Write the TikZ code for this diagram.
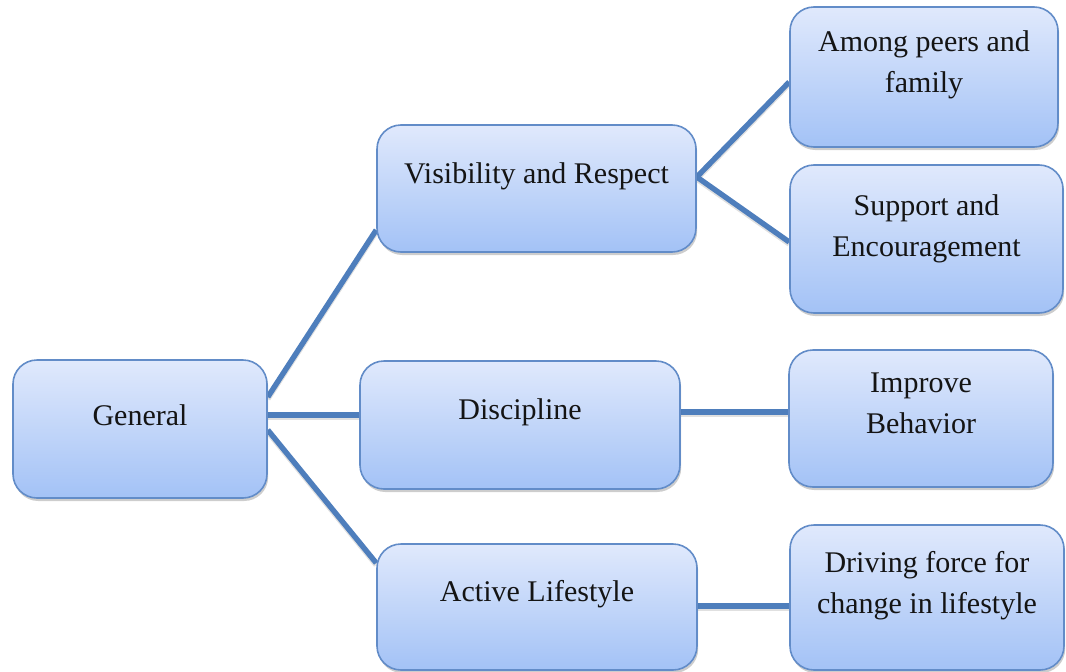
\documentclass[tikz,border=0pt]{standalone}
\usepackage{fontspec}
\setmainfont{Liberation Serif}
\usetikzlibrary{shadows,backgrounds}
\definecolor{boxtop}{RGB}{224,233,252}
\definecolor{boxbot}{RGB}{163,194,246}
\definecolor{boxline}{RGB}{98,140,200}
\definecolor{linkcol}{RGB}{78,126,188}
\definecolor{txt}{RGB}{20,20,20}
\tikzset{
  box/.style={draw=boxline, line width=1.6pt, rounded corners=24pt,
    top color=boxtop, bottom color=boxbot, inner sep=0pt,
    drop shadow={shadow xshift=1.2pt, shadow yshift=-3pt, opacity=0.28, fill=black!70}},
  lbl/.style={align=center, text=txt, inner sep=0pt,
    font=\fontsize{30}{41}\selectfont},
  link/.style={draw=linkcol, line width=5.4pt},
  linkshade/.style={draw=black, opacity=0.12, line width=5.4pt}
}
\begin{document}
\begin{tikzpicture}[x=1pt,y=-1pt]
\useasboundingbox (0,0) rectangle (1066,672);

% boxes
\node[box, minimum width=254pt, minimum height=138pt] (gen) at (140,429) {};
\node[box, minimum width=319pt, minimum height=127pt] (vis) at (536.5,188.5) {};
\node[box, minimum width=320pt, minimum height=128pt] (dis) at (520,425) {};
\node[box, minimum width=320pt, minimum height=126pt] (act) at (537,607) {};
\node[box, minimum width=268pt, minimum height=140pt] (amg) at (924,77) {};
\node[box, minimum width=273pt, minimum height=148pt] (sup) at (926.5,239) {};
\node[box, minimum width=264pt, minimum height=137pt] (imp) at (921,418.5) {};
\node[box, minimum width=274pt, minimum height=145pt] (drv) at (927,597.5) {};

% labels, set in the upper part of each box
\node[lbl] (gent) at ([yshift=14pt]gen.center) {General};
\node[lbl] (vist) at ([yshift=12pt]vis.center) {Visibility and Respect};
\node[lbl] (dist) at ([yshift=13pt]dis.center) {Discipline};
\node[lbl] (actt) at ([yshift=13pt]act.center) {Active Lifestyle};
\node[lbl] (amgt) at ([yshift=12pt]amg.center) {Among peers and\\family};
\node[lbl] (supt) at ([yshift=10.5pt]sup.center) {Support and\\Encouragement};
\node[lbl] (impt) at ([yshift=15pt]imp.center) {Improve\\Behavior};
\node[lbl] (drvt) at ([yshift=12pt]drv.center) {Driving force for\\change in lifestyle};

% attachment points of the connectors
\coordinate (g1) at ([yshift=32pt]gen.east);
\coordinate (g2) at ([yshift=14pt]gen.east);
\coordinate (g3) at ([yshift=-1pt]gen.east);
\coordinate (v0) at ([yshift=-41.5pt]vis.west);
\coordinate (v1) at ([yshift=11.5pt]vis.east);
\coordinate (d0) at ([yshift=10pt]dis.west);
\coordinate (d1) at ([yshift=13pt]dis.east);
\coordinate (a0) at ([yshift=44pt]act.west);
\coordinate (a1) at ([yshift=1pt]act.east);
\coordinate (m0) at ([yshift=-5pt]amg.west);
\coordinate (s0) at ([yshift=-3pt]sup.west);
\coordinate (i0) at ([yshift=6.5pt]imp.west);
\coordinate (r0) at ([yshift=-8.5pt]drv.west);

\begin{pgfonlayer}{background}
  \foreach \p/\q in {g1/v0, g2/d0, g3/a0, v1/m0, v1/s0, d1/i0, a1/r0}{
    \draw[linkshade] ([yshift=-2pt]\p) -- ([yshift=-2pt]\q);
    \draw[link] (\p) -- (\q);
  }
\end{pgfonlayer}
\end{tikzpicture}
\end{document}
